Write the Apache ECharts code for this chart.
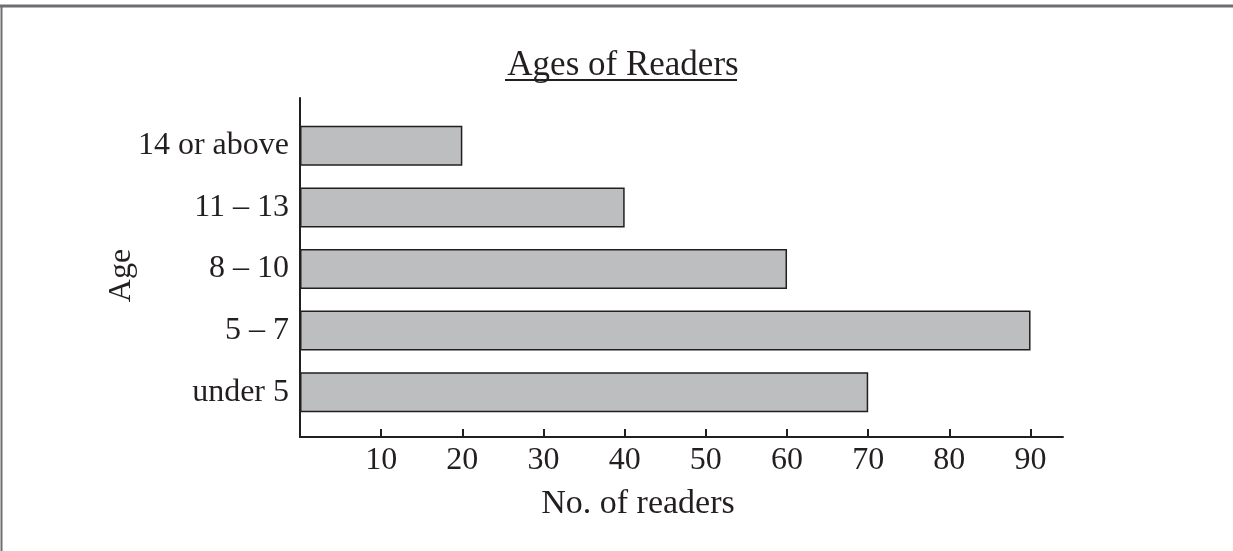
<!DOCTYPE html>
<html>
<head>
<meta charset="utf-8">
<title>Ages of Readers</title>
<script src="https://cdn.jsdelivr.net/npm/echarts@6/dist/echarts.min.js"></script>
<style>
  html, body { margin: 0; padding: 0; background: #fff; }
  #chartmain { width: 1233px; height: 551px; }
</style>
</head>
<body>
<div id="chartmain"></div>
<script>
// data, bottom to top
var ages = ['under 5', '5 \u2013 7', '8 \u2013 10', '11 \u2013 13', '14 or above'];
var readers = [70, 90, 60, 40, 20];
var ticks = [10, 20, 30, 40, 50, 60, 70, 80, 90];

var ink = '#231f20';
var serif = '"Liberation Serif", "Times New Roman", serif';

var option = {
    backgroundColor: '#fff',
    animation: false,
    title: [
        {
            text: 'Ages of Readers',
            left: 618, top: 43, textAlign: 'center',
            textStyle: { fontFamily: serif, fontSize: 35, fontWeight: 'normal', color: ink }
        },
        {
            text: 'No. of readers',
            left: 633, top: 482, textAlign: 'center',
            textStyle: { fontFamily: serif, fontSize: 34, fontWeight: 'normal', color: ink }
        }
    ],
    grid: [
        // bars
        { left: 300, right: 170, top: 115, bottom: 128 },
        // axis frame
        { left: 300, right: 170, top: 98, bottom: 114 }
    ],
    xAxis: [
        { gridIndex: 0, type: 'value', min: 0, max: 94, show: false },
        {
            gridIndex: 1, type: 'value', min: 0, max: 94, interval: 10,
            axisLine: { show: true, lineStyle: { color: ink, width: 2 } },
            axisTick: { show: true, inside: true, length: 8, lineStyle: { color: ink, width: 2 } },
            axisLabel: {
                fontFamily: serif, fontSize: 32, color: ink, margin: 8,
                showMinLabel: false, showMaxLabel: false,
                formatter: function (v) { return ticks.indexOf(v) >= 0 ? String(v) : ''; }
            },
            splitLine: { show: false }
        }
    ],
    yAxis: [
        {
            gridIndex: 0, type: 'category', data: ages,
            axisLine: { show: false },
            axisTick: { show: false },
            axisLabel: { fontFamily: serif, fontSize: 32, color: ink, margin: 11 }
        },
        {
            gridIndex: 1, type: 'value', min: 0, max: 1,
            name: 'Age', nameLocation: 'middle', nameRotate: 90, nameGap: 162,
            nameTextStyle: { fontFamily: serif, fontSize: 32, color: ink, padding: [0, 16, 0, 0] },
            axisLine: { show: true, lineStyle: { color: ink, width: 2 } },
            axisTick: { show: false },
            axisLabel: { show: false },
            splitLine: { show: false }
        }
    ],
    series: [
        {
            type: 'bar',
            xAxisIndex: 0, yAxisIndex: 0,
            data: readers,
            barWidth: 40,
            itemStyle: { color: '#bcbec0', borderColor: ink, borderWidth: 1.5 },
            silent: true
        }
    ],
    graphic: [
        // title underline
        { type: 'line', shape: { x1: 505, y1: 80, x2: 737, y2: 80 }, style: { stroke: ink, lineWidth: 2 } },
        // page frame
        { type: 'line', shape: { x1: 0, y1: 6, x2: 1233, y2: 6 }, style: { stroke: '#6d6e71', lineWidth: 3 } },
        { type: 'line', shape: { x1: 1.5, y1: 6, x2: 1.5, y2: 551 }, style: { stroke: '#6d6e71', lineWidth: 2 } }
    ]
};

var myChart = echarts.init(document.getElementById('chartmain'));
myChart.setOption(option);
</script>
</body>
</html>
